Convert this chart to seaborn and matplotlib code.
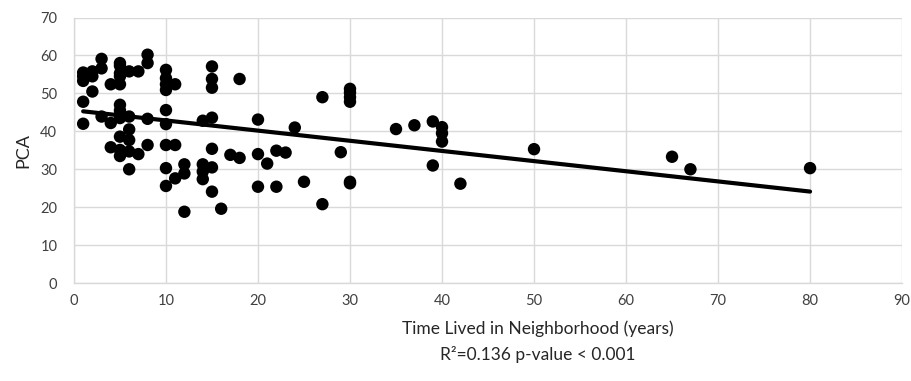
import numpy as np
import pandas as pd
import matplotlib
matplotlib.use("Agg")
import matplotlib.pyplot as plt
import seaborn as sns

# years lived in neighborhood (x) and PCA score (y)
years = [1, 1, 1, 1, 1,
         2, 2, 2,
         3, 3, 3,
         4, 4, 4,
         5, 5, 5, 5, 5, 5, 5, 5, 5, 5, 5, 5,
         6, 6, 6, 6, 6, 6,
         7, 7,
         8, 8, 8, 8,
         10, 10, 10, 10, 10, 10, 10, 10, 10,
         11, 11, 11,
         12, 12, 12,
         14, 14, 14, 14,
         15, 15, 15, 15, 15, 15, 15,
         16, 17, 18, 18,
         20, 20, 20, 21, 22, 22, 23, 24, 25,
         27, 27, 29,
         30, 30, 30, 30, 30, 30,
         35, 37, 39, 39, 40, 40, 40, 42,
         50, 65, 67, 80]
pca = [55.5, 54.5, 53.3, 47.8, 42.0,
       55.8, 54.5, 50.5,
       59.1, 56.6, 43.9,
       52.4, 42.2, 35.8,
       58.0, 57.3, 55.3, 54.5, 52.4, 47.0, 45.5, 44.3, 43.5, 38.6, 35.1, 33.5,
       55.8, 43.9, 40.5, 37.7, 34.7, 30.0,
       55.8, 34.0,
       60.2, 58.0, 43.3, 36.4,
       56.2, 54.0, 52.4, 50.9, 45.6, 41.9, 36.4, 30.3, 25.6,
       52.4, 36.4, 27.6,
       31.3, 28.9, 18.8,
       42.8, 31.3, 29.4, 27.4,
       57.1, 53.8, 51.5, 43.6, 35.4, 30.5, 24.1,
       19.6, 33.8, 53.8, 33.0,
       43.1, 34.0, 25.4, 31.5, 34.9, 25.4, 34.4, 41.0, 26.7,
       49.0, 20.8, 34.5,
       51.2, 50.2, 49.0, 47.8, 26.7, 26.3,
       40.6, 41.6, 42.6, 31.0, 41.1, 39.5, 37.3, 26.2,
       35.3, 33.3, 30.0, 30.3]

x_ticks = list(range(0, 100, 10))
y_ticks = list(range(0, 80, 10))

df = pd.DataFrame({"years": years, "pca": pca})

sns.set_theme(style="whitegrid")
plt.rcParams["font.family"] = ["Lato", "DejaVu Sans"]

fig = plt.figure(figsize=(9.12, 3.81), dpi=100)
ax = fig.add_axes([0.0811, 0.257, 0.908, 0.697])

sns.regplot(data=df, x="years", y="pca", ax=ax, ci=None, truncate=True,
            scatter_kws=dict(s=80, color="black", edgecolor="none", alpha=1, zorder=3),
            line_kws=dict(color="black", lw=3, zorder=4))

ax.set_xlim(0, 90)
ax.set_ylim(0, 70)
ax.set_xticks(x_ticks)
ax.set_yticks(y_ticks)
ax.tick_params(axis="both", length=0, labelsize=10.5, colors="#404040")
ax.tick_params(axis="x", pad=8)
ax.tick_params(axis="y", pad=12)
ax.grid(True, color="#d9d9d9", lw=1)
for side in ["top", "right"]:
    ax.spines[side].set_visible(False)
for side in ["left", "bottom"]:
    ax.spines[side].set_color("#d9d9d9")
    ax.spines[side].set_linewidth(1)

ax.set_xlabel("Time Lived in Neighborhood (years)\nR²=0.136 p-value < 0.001",
              fontsize=12.5, color="#262626", linespacing=1.65)
ax.xaxis.set_label_coords(0.56, -0.142, transform=ax.transAxes)
ax.xaxis.label.set_va("top")
ax.set_ylabel("PCA", fontsize=13, color="#262626", labelpad=6)

fig.savefig("out.png", dpi=100)
